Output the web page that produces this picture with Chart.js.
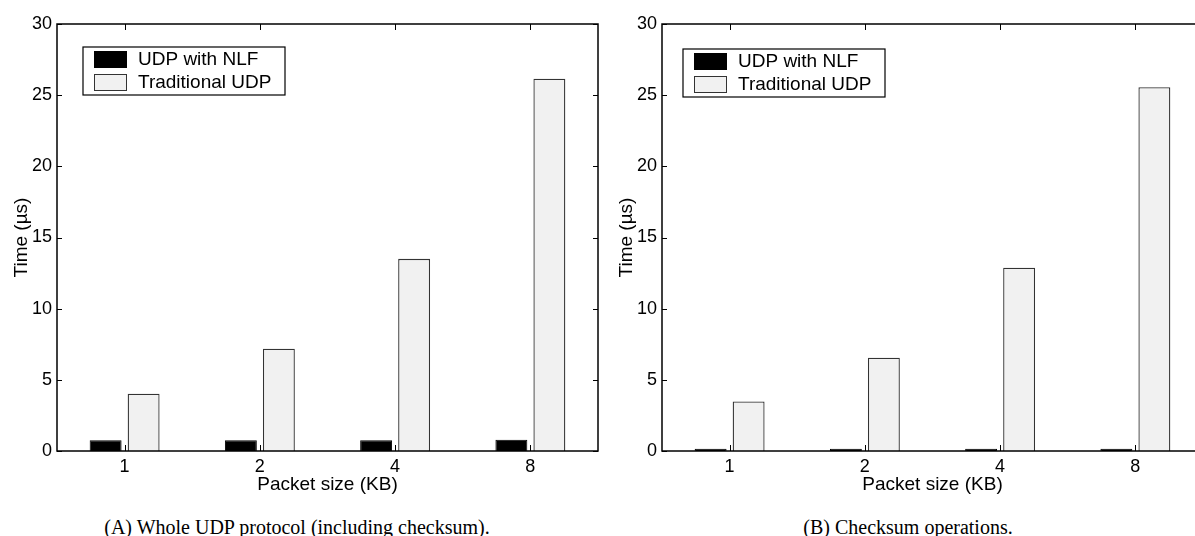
<!DOCTYPE html>
<html>
<head>
<meta charset="utf-8">
<script src="https://cdn.jsdelivr.net/npm/chart.js@4"></script>
<style>
  html, body { margin: 0; padding: 0; background: #fff; }
  body { width: 1195px; height: 536px; overflow: hidden; position: relative; }
  .panel { position: absolute; top: 0; width: 610px; height: 500px; }
  .caption { position: absolute; top: 517px; font: 20px/20px "Liberation Serif", "Times New Roman", serif; color: #000; white-space: nowrap; transform: translateX(-50%); }
</style>
</head>
<body>
<div class="panel" style="left:0"><canvas id="chartA" width="610" height="500"></canvas></div>
<div class="panel" style="left:605px"><canvas id="chartB" width="610" height="500"></canvas></div>
<div class="caption" style="left:297px">(A) Whole UDP protocol (including checksum).</div>
<div class="caption" style="left:908px">(B) Checksum operations.</div>
<script>
// data
const categories = ['1', '2', '4', '8'];
const seriesLabels = ['UDP with NLF', 'Traditional UDP'];
const nlfWhole = [0.75, 0.75, 0.75, 0.79];
const tradWhole = [4.02, 7.18, 13.5, 26.15];
const nlfChecksum = [0.15, 0.15, 0.15, 0.15];
const tradChecksum = [3.48, 6.55, 12.88, 25.56];
const yMin = 0, yMax = 30, yStep = 5;
const xTitle = 'Packet size (KB)';
const yTitle = 'Time (\u00b5s)';

const sans = "'Liberation Sans', Arial, Helvetica, sans-serif";

// box around the plot, inward ticks on all sides, legend inside
const framePlugin = {
    id: 'frame',
    afterDatasetsDraw(chart, args, opts) {
        const ctx = chart.ctx;
        const a = chart.chartArea;
        const x = chart.scales.x;
        const y = chart.scales.y;
        ctx.save();
        ctx.strokeStyle = '#000';
        ctx.lineWidth = 1;
        ctx.beginPath();
        x.ticks.forEach((t, i) => {
            const px = Math.round(x.getPixelForTick(i)) + 0.5;
            ctx.moveTo(px, a.bottom);
            ctx.lineTo(px, a.bottom - 6);
            ctx.moveTo(px, a.top);
            ctx.lineTo(px, a.top + 6);
        });
        y.ticks.forEach((t, i) => {
            const py = Math.round(y.getPixelForTick(i)) + 0.5;
            ctx.moveTo(a.left, py);
            ctx.lineTo(a.left + 5, py);
            ctx.moveTo(a.right, py);
            ctx.lineTo(a.right - 5, py);
        });
        ctx.stroke();
        ctx.lineWidth = 1.5;
        ctx.strokeRect(a.left, a.top, a.right - a.left, a.bottom - a.top);

        // legend
        const bx = a.left + opts.dx, by = a.top + opts.dy;
        const bw = 202, bh = 48;
        ctx.fillStyle = '#fff';
        ctx.fillRect(bx, by, bw, bh);
        ctx.lineWidth = 1.2;
        ctx.strokeRect(bx, by, bw, bh);
        ctx.font = '19px ' + sans;
        ctx.textBaseline = 'middle';
        ctx.textAlign = 'left';
        chart.data.datasets.forEach((ds, i) => {
            const sy = by + 4 + i * 23;
            ctx.fillStyle = ds.backgroundColor;
            ctx.fillRect(bx + 11, sy, 33, 17);
            ctx.strokeStyle = ds.borderColor;
            ctx.lineWidth = 1;
            ctx.strokeRect(bx + 11.5, sy + 0.5, 32, 16);
            ctx.fillStyle = '#000';
            ctx.fillText(ds.label, bx + 55, sy + 9);
        });
        ctx.restore();
    }
};

function makeChart(id, nlf, trad, legendPos) {
    const ctx = document.getElementById(id).getContext('2d');
    return new Chart(ctx, {
        type: 'bar',
        data: {
            labels: categories,
            datasets: [{
                label: seriesLabels[0],
                data: nlf,
                backgroundColor: '#000000',
                borderColor: '#000000',
                borderWidth: 1
            }, {
                label: seriesLabels[1],
                data: trad,
                backgroundColor: '#f1f1f1',
                borderColor: '#333333',
                borderWidth: 1.3
            }]
        },
        options: {
            responsive: false,
            animation: false,
            events: [],
            datasets: {
                bar: { categoryPercentage: 0.562, barPercentage: 0.84 }
            },
            layout: { padding: { left: 0, top: 24, right: 12, bottom: 0 } },
            scales: {
                x: {
                    grid: { display: false, drawTicks: false },
                    border: { display: false },
                    ticks: { color: '#000', font: { family: sans, size: 18 }, padding: 5 },
                    title: { display: true, text: xTitle, color: '#000', font: { family: sans, size: 19 }, padding: { top: 0, bottom: 4 } },
                    afterFit: s => { s.height = 49; }
                },
                y: {
                    min: yMin,
                    max: yMax,
                    grid: { display: false, drawTicks: false },
                    border: { display: false },
                    ticks: { stepSize: yStep, color: '#000', font: { family: sans, size: 18 }, padding: 5 },
                    title: { display: true, text: yTitle, color: '#000', font: { family: sans, size: 19 }, padding: { top: 10, bottom: 0 } },
                    afterFit: s => { s.width = 57; }
                }
            },
            plugins: {
                legend: { display: false },
                tooltip: { enabled: false },
                frame: legendPos
            }
        },
        plugins: [framePlugin]
    });
}

makeChart('chartA', nlfWhole, tradWhole, { dx: 26, dy: 23 });
makeChart('chartB', nlfChecksum, tradChecksum, { dx: 21, dy: 25 });
</script>
</body>
</html>
